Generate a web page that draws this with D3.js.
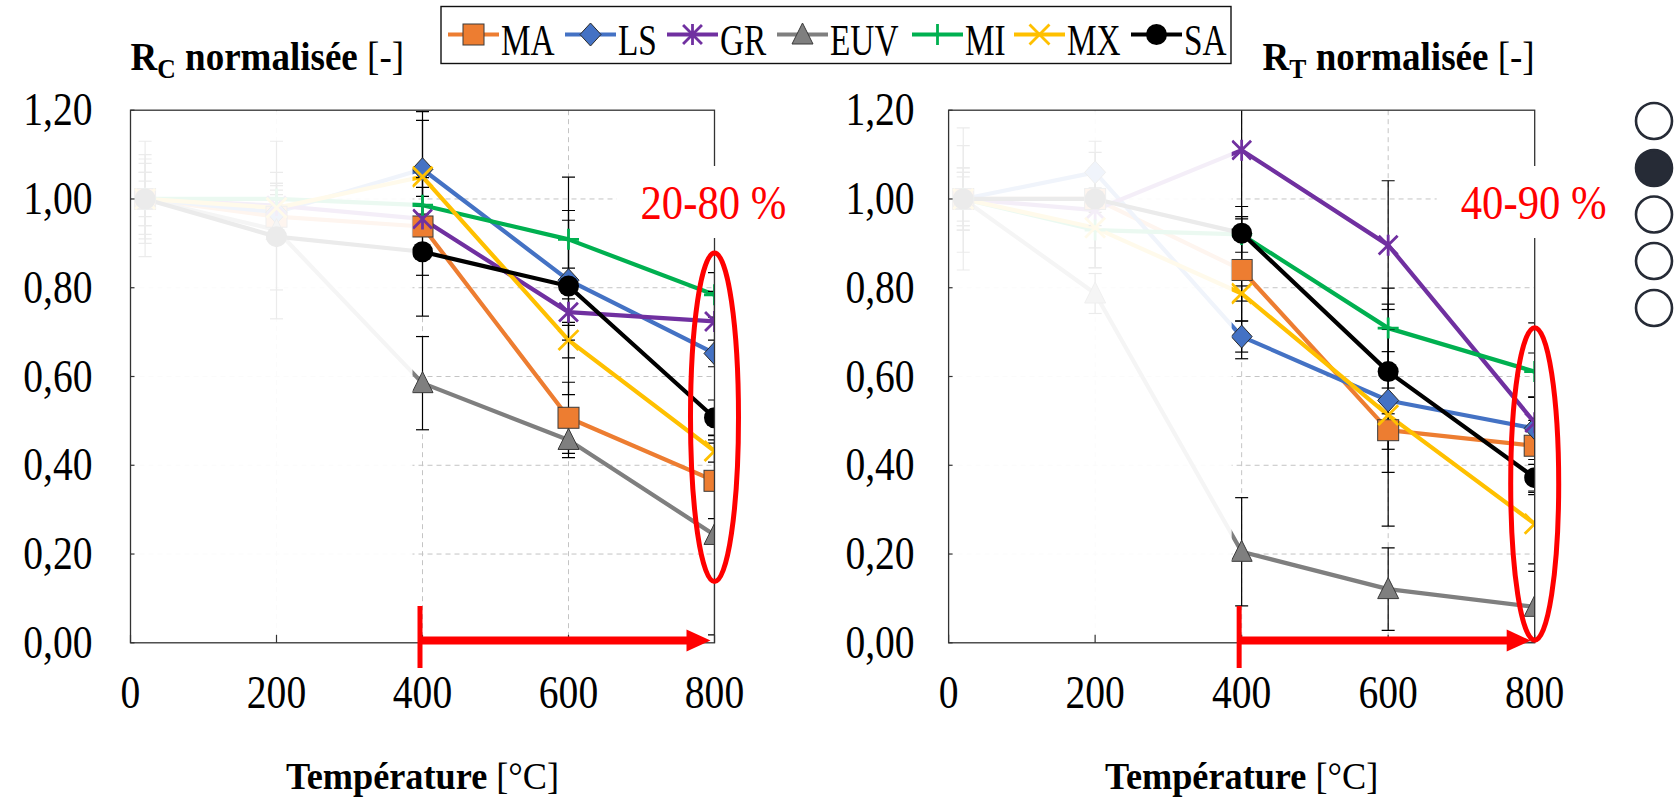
<!DOCTYPE html>
<html>
<head>
<meta charset="utf-8">
<script src="https://cdn.jsdelivr.net/npm/d3@7"></script>
<style>
  html, body { margin: 0; padding: 0; background: #fff; }
  svg { display: block; }
  text { font-family: "Liberation Serif", "Times New Roman", serif; }
</style>
</head>
<body>
<svg id="chart" width="1677" height="797"></svg>
<script>
// ---- data ---------------------------------------------------------------
const temps = [20, 200, 400, 600, 800];
const seriesNames = ["MA", "LS", "GR", "EUV", "MI", "MX", "SA"];
const seriesColors = ["#ED7D31", "#4472C4", "#7030A0", "#7F7F7F", "#00B050", "#FFC000", "#000000"];
const seriesMarkers = ["square", "diamond", "star", "triangle", "plus", "cross", "circle"];

const xTicks = [0, 200, 400, 600, 800];
const yTicks = [0, 0.2, 0.4, 0.6, 0.8, 1.0, 1.2];

// normalised contact resistance R_C
const rcMA  = [1.00, 0.96, 0.938, 0.507, 0.365];
const rcLS  = [1.00, 0.97, 1.067, 0.817, 0.652];
const rcGR  = [1.00, 0.985, 0.955, 0.745, 0.724];
const rcEUV = [1.00, 0.93, 0.585, 0.457, 0.243];
const rcMI  = [1.00, 1.00, 0.986, 0.909, 0.784];
const rcMX  = [1.00, 0.98, 1.05, 0.682, 0.432];
const rcSA  = [1.00, 0.915, 0.881, 0.804, 0.507];

const rcErrMA  = [0.06, 0.06, 0.11, 0.08, 0.085];
const rcErrLS  = [0.13, 0.04, 0.13, 0.135, 0.03];
const rcErrGR  = [0.08, 0.05, 0.03, 0.03, 0.068];
const rcErrEUV = [0.10, 0.20, 0.105, 0.04, 0.225];
const rcErrMI  = [0.04, 0.03, 0.02, 0.065, 0.05];
const rcErrMX  = [0.06, 0.08, 0.127, 0.04, 0.025];
const rcErrSA  = [0.09, 0.12, 0.145, 0.245, 0.04];

// normalised tensile resistance R_T
const rtMA  = [1.00, 1.00, 0.84, 0.479, 0.444];
const rtLS  = [1.00, 1.06, 0.69, 0.546, 0.483];
const rtGR  = [1.00, 0.975, 1.11, 0.896, 0.496];
const rtEUV = [1.00, 0.787, 0.205, 0.121, 0.081];
const rtMI  = [1.00, 0.93, 0.92, 0.709, 0.611];
const rtMX  = [1.00, 0.935, 0.787, 0.513, 0.268];
const rtSA  = [1.00, 1.00, 0.923, 0.611, 0.372];

const rtErrMA  = [0.06, 0.07, 0.115, 0.095, 0.11];
const rtErrLS  = [0.12, 0.07, 0.035, 0.11, 0.07];
const rtErrGR  = [0.07, 0.13, 0.47, 0.145, 0.157];
const rtErrEUV = [0.16, 0.045, 0.122, 0.093, 0.08];
const rtErrMI  = [0.06, 0.04, 0.04, 0.09, 0.11];
const rtErrMX  = [0.07, 0.09, 0.017, 0.25, 0.09];
const rtErrSA  = [0.05, 0.06, 0.06, 0.095, 0.03];

const rangeLabels = ["20-80 %", "40-90 %"];
const highlightFrom = 400;   // start of the highlighted temperature range
const highlightTo = 800;

// ---- layout -------------------------------------------------------------
const svg = d3.select("#chart");

const panels = [
  {
    id: "rc", sub: "C", x0: 130.5, x1: 714.5, tickLabelGap: 38, titleAnchor: "start",
    values: [rcMA, rcLS, rcGR, rcEUV, rcMI, rcMX, rcSA],
    errors: [rcErrMA, rcErrLS, rcErrGR, rcErrEUV, rcErrMI, rcErrMX, rcErrSA],
    label: rangeLabels[0], ellipse: [0.878, 0.138]
  },
  {
    id: "rt", sub: "T", x0: 948.6, x1: 1534.7, tickLabelGap: 34, titleAnchor: "end",
    values: [rtMA, rtLS, rtGR, rtEUV, rtMI, rtMX, rtSA],
    errors: [rtErrMA, rtErrLS, rtErrGR, rtErrEUV, rtErrMI, rtErrMX, rtErrSA],
    label: rangeLabels[1], ellipse: [0.71, 0.006]
  }
];

const yScale = d3.scaleLinear().domain([0, 1.2]).range([642.8, 110.2]);
const fmt = v => d3.format(".2f")(v).replace(".", ",");

// text placed at (x, y) and narrowed horizontally by sx
function narrowText(g, x, y, size, sx, anchor) {
  return g.append("text")
    .attr("transform", `translate(${x},${y}) scale(${sx},1)`)
    .attr("text-anchor", anchor || "start")
    .attr("font-size", size).attr("fill", "#000");
}

// marker drawing
function drawMarker(g, type, color, cx, cy) {
  const m = g.append("g").attr("transform", `translate(${cx},${cy})`);
  const s = 10.5;
  if (type === "square") {
    m.append("rect").attr("x", -s).attr("y", -s).attr("width", 2 * s).attr("height", 2 * s)
      .attr("fill", color).attr("stroke", "#3a3a3a").attr("stroke-width", 1);
  } else if (type === "diamond") {
    m.append("path").attr("d", `M0,${-s - 1}L${s},0L0,${s + 1}L${-s},0Z`)
      .attr("fill", color).attr("stroke", "#2a2a2a").attr("stroke-width", 1);
  } else if (type === "triangle") {
    m.append("path").attr("d", `M0,${-s - 1}L${s},${s - 1}L${-s},${s - 1}Z`)
      .attr("fill", color).attr("stroke", "#3a3a3a").attr("stroke-width", 1);
  } else if (type === "circle") {
    m.append("circle").attr("r", s).attr("fill", color);
  } else if (type === "plus") {
    m.append("path").attr("d", `M${-s},0H${s}M0,${-s}V${s}`)
      .attr("stroke", color).attr("stroke-width", 2.8).attr("fill", "none");
  } else if (type === "cross") {
    const k = s * 0.95;
    m.append("path").attr("d", `M${-k},${-k}L${k},${k}M${-k},${k}L${k},${-k}`)
      .attr("stroke", color).attr("stroke-width", 2.8).attr("fill", "none");
  } else if (type === "star") {
    const k = s * 0.9;
    m.append("path").attr("d", `M${-k},${-k}L${k},${k}M${-k},${k}L${k},${-k}M0,${-s}V${s}`)
      .attr("stroke", color).attr("stroke-width", 2.8).attr("fill", "none");
  }
}

panels.forEach(p => {
  const x = d3.scaleLinear().domain([0, 800]).range([p.x0, p.x1]);
  const top = yScale(1.2), bottom = yScale(0);
  const g = svg.append("g").attr("class", "panel-" + p.id);

  // clip region = plot area
  svg.append("clipPath").attr("id", "clip-" + p.id)
    .append("rect").attr("x", p.x0).attr("y", top).attr("width", p.x1 - p.x0).attr("height", bottom - top);

  // grid
  const grid = g.append("g");
  grid.selectAll("line.h").data(yTicks.filter(v => v > 0 && v < 1.2)).join("line")
    .attr("x1", p.x0).attr("x2", p.x1).attr("y1", d => yScale(d)).attr("y2", d => yScale(d))
    .attr("stroke", "#c4c4c4").attr("stroke-width", 1).attr("stroke-dasharray", "5,4");
  grid.selectAll("line.v").data(xTicks.filter(v => v > 0 && v < 800)).join("line")
    .attr("y1", top).attr("y2", bottom).attr("x1", d => x(d)).attr("x2", d => x(d))
    .attr("stroke", "#c4c4c4").attr("stroke-width", 1).attr("stroke-dasharray", "5,4");

  const data = g.append("g").attr("clip-path", `url(#clip-${p.id})`);
  const line = d3.line().x((d, i) => x(temps[i])).y(d => yScale(d));

  // series lines
  p.values.forEach((vals, si) => {
    data.append("path").datum(vals).attr("d", line)
      .attr("fill", "none").attr("stroke", seriesColors[si]).attr("stroke-width", 4.2)
      .attr("stroke-linejoin", "round");
  });

  // error bars
  p.values.forEach((vals, si) => {
    const eb = data.append("g");
    vals.forEach((v, i) => {
      const e = p.errors[si][i];
      const cx = x(temps[i]);
      eb.append("line").attr("x1", cx).attr("x2", cx).attr("y1", yScale(v + e)).attr("y2", yScale(v - e))
        .attr("stroke", "#000").attr("stroke-width", 1.2);
      [v + e, v - e].forEach(w => {
        eb.append("line").attr("x1", cx - 6.5).attr("x2", cx + 6.5).attr("y1", yScale(w)).attr("y2", yScale(w))
          .attr("stroke", "#000").attr("stroke-width", 1.2);
      });
    });
  });
  // markers
  p.values.forEach((vals, si) => {
    vals.forEach((v, i) => drawMarker(data, seriesMarkers[si], seriesColors[si], x(temps[i]), yScale(v)));
  });

  // washed-out region below the highlighted range
  g.append("rect").attr("x", p.x0 + 1).attr("y", top + 1)
    .attr("width", x(highlightFrom) - 10 - p.x0 - 1).attr("height", bottom - top - 2)
    .attr("fill", "#fff").attr("opacity", 0.92);

  // frame and ticks
  const frameColor = "#333";
  g.append("rect").attr("x", p.x0).attr("y", top).attr("width", p.x1 - p.x0).attr("height", bottom - top)
    .attr("fill", "none").attr("stroke", frameColor).attr("stroke-width", 1.3);
  g.selectAll("line.yt").data(yTicks).join("line")
    .attr("x1", p.x0).attr("x2", p.x0 + 4).attr("y1", d => yScale(d)).attr("y2", d => yScale(d))
    .attr("stroke", frameColor).attr("stroke-width", 1.2);
  g.selectAll("line.xt").data(xTicks).join("line")
    .attr("x1", d => x(d)).attr("x2", d => x(d)).attr("y1", bottom).attr("y2", bottom - 8)
    .attr("stroke", frameColor).attr("stroke-width", 1.2);

  // tick labels
  yTicks.forEach(v => narrowText(g, p.x0 - p.tickLabelGap, yScale(v) + 15, 46, 0.86, "end").text(fmt(v)));
  xTicks.forEach(v => narrowText(g, x(v), 707.5, 46, 0.86, "middle").text(v));

  // panel title
  const title = narrowText(g, p.titleAnchor === "start" ? p.x0 : p.x1, 70, 39, 0.95, p.titleAnchor);
  title.append("tspan").attr("font-weight", "bold").text("R");
  title.append("tspan").attr("font-weight", "bold").attr("font-size", 27).attr("dy", 8).text(p.sub);
  title.append("tspan").attr("font-weight", "bold").attr("dy", -8).text(" normalisée");
  title.append("tspan").text(" [-]");

  // axis title
  const xt = narrowText(g, x(400), 789, 39, 0.93, "middle");
  xt.append("tspan").attr("font-weight", "bold").text("Température");
  xt.append("tspan").text(" [°C]");

  // range label on a white box
  const lx = x(800) - 74, ly = 219;
  g.append("rect").attr("x", lx - 24).attr("y", 166).attr("width", 176).attr("height", 72).attr("fill", "#fff");
  narrowText(g, lx, ly, 48, 0.89, "start").attr("fill", "#FF0000").text(p.label);

  // ellipse round the 800 °C points
  const eTop = yScale(p.ellipse[0]), eBot = yScale(p.ellipse[1]);
  g.append("ellipse").attr("cx", x(800)).attr("cy", (eTop + eBot) / 2)
    .attr("rx", 24).attr("ry", (eBot - eTop) / 2)
    .attr("fill", "none").attr("stroke", "#FF0000").attr("stroke-width", 5);

  // arrow over the highlighted range
  const ay = bottom - 2.2;
  const ax0 = x(highlightFrom) - 2.5, ax1 = x(highlightTo) - 4;
  g.append("line").attr("x1", ax0).attr("x2", ax0).attr("y1", 606).attr("y2", 668)
    .attr("stroke", "#FF0000").attr("stroke-width", 5);
  g.append("line").attr("x1", ax0).attr("x2", ax1 - 22).attr("y1", ay).attr("y2", ay)
    .attr("stroke", "#FF0000").attr("stroke-width", 8);
  g.append("path").attr("d", `M${ax1 - 24},${ay - 11}L${ax1},${ay}L${ax1 - 24},${ay + 11}Z`)
    .attr("fill", "#FF0000");
});

// ---- legend ---------------------------------------------------------------
const legend = svg.append("g");
legend.append("rect").attr("x", 441).attr("y", 6.5).attr("width", 790).attr("height", 57)
  .attr("fill", "#fff").attr("stroke", "#111").attr("stroke-width", 1.4);
const legendStarts = [448, 565, 667, 777, 912, 1014, 1131];
const legY = 34.5;
seriesNames.forEach((name, i) => {
  const lx0 = legendStarts[i];
  legend.append("line").attr("x1", lx0).attr("x2", lx0 + 51).attr("y1", legY).attr("y2", legY)
    .attr("stroke", seriesColors[i]).attr("stroke-width", 4.2);
  drawMarker(legend, seriesMarkers[i], seriesColors[i], lx0 + 25.5, legY);
  narrowText(legend, lx0 + 53, 55, 45, 0.74, "start").text(name);
});

// ---- page selector dots -------------------------------------------------------
const dotsY = [121, 168, 214.5, 261, 308];
svg.append("g").selectAll("circle").data(dotsY).join("circle")
  .attr("cx", 1654).attr("cy", d => d).attr("r", 18)
  .attr("fill", (d, i) => i === 1 ? "#262b36" : "#fff")
  .attr("stroke", "#262b36").attr("stroke-width", 2.6);
</script>
</body>
</html>
